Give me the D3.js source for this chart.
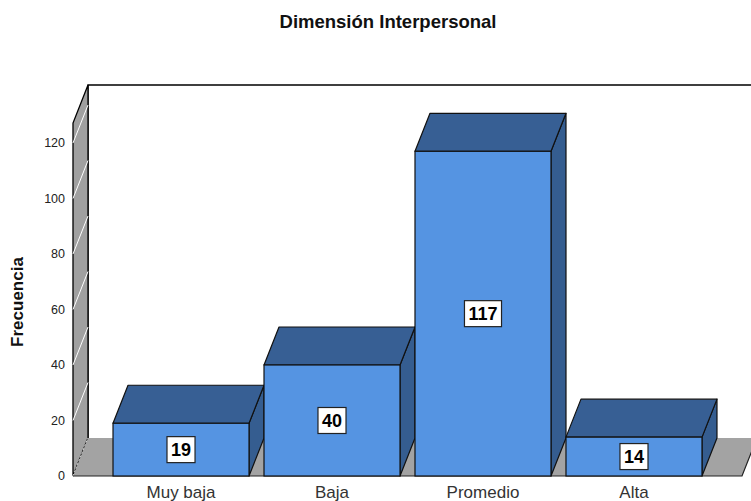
<!DOCTYPE html>
<html>
<head>
<meta charset="utf-8">
<script src="https://d3js.org/d3.v7.min.js"></script>
<style>
  body { margin: 0; background: #fff; }
  svg { display: block; font-family: Arial, "Liberation Sans", sans-serif; }
</style>
</head>
<body>
<div id="chart"></div>
<script>
const categories = ["Muy baja", "Baja", "Promedio", "Alta"];
const frecuencias = [19, 40, 117, 14];
const yTicks = [0, 20, 40, 60, 80, 100, 120];

const W = 751, H = 501;
const svg = d3.select("#chart").append("svg").attr("width", W).attr("height", H);

// 3D depth offset
const dx = 15, dy = -38;
const left = 73, right = 742, floorY = 476, topY = 123;

const y = d3.scaleLinear().domain([0, 127.2]).range([floorY, topY]);
const x = d3.scaleBand().domain(categories).range([left, right])
    .paddingInner(0.0993).paddingOuter(0.265);

const pts = a => a.map(p => p.join(",")).join(" ");

// back wall
svg.append("rect")
    .attr("x", left + dx).attr("y", topY + dy)
    .attr("width", W).attr("height", floorY - topY)
    .attr("fill", "#fff");
svg.append("path")
    .attr("d", `M${left + dx},${floorY + dy}V${topY + dy}H${W + 5}`)
    .attr("fill", "none").attr("stroke", "#000").attr("stroke-width", 1.3);

// left wall
svg.append("polygon")
    .attr("points", pts([[left, floorY], [left, topY], [left + dx, topY + dy], [left + dx, floorY + dy]]))
    .attr("fill", "#a0a0a0").attr("stroke", "#000").attr("stroke-width", 1.3);

// wall grid lines
svg.append("g").selectAll("line").data(yTicks).join("line")
    .attr("x1", left).attr("y1", d => y(d))
    .attr("x2", left + dx).attr("y2", d => y(d) + dy)
    .attr("stroke", "#fff").attr("stroke-width", 1)
    .attr("stroke-dasharray", d => d === 0 ? "2,2" : null);

// floor
svg.append("polygon")
    .attr("points", pts([[left, floorY], [left + dx, floorY + dy], [right + dx, floorY + dy], [right, floorY]]))
    .attr("fill", "#a3a3a3");
svg.append("path")
    .attr("d", `M${left},${floorY}H${right}L${right + dx},${floorY + dy}`)
    .attr("fill", "none").attr("stroke", "#222").attr("stroke-width", 1.2);

// y axis labels
svg.append("g").selectAll("text").data(yTicks).join("text")
    .attr("x", 65).attr("y", d => y(d))
    .attr("dy", "0.35em")
    .attr("text-anchor", "end")
    .attr("font-size", 12.5)
    .attr("fill", "#222")
    .text(d => d);

// bars
const data = categories.map((c, i) => ({cat: c, val: frecuencias[i]}));
const bw = x.bandwidth();
const bars = svg.append("g").selectAll("g").data(data).join("g");

bars.append("polygon")
    .attr("points", d => {
        const x0 = x(d.cat) + bw, y0 = y(d.val);
        return pts([[x0, y0], [x0 + dx, y0 + dy], [x0 + dx, floorY + dy], [x0, floorY]]);
    })
    .attr("fill", "#355d90").attr("stroke", "#111").attr("stroke-width", 1.2)
    .attr("stroke-linejoin", "round");

bars.append("polygon")
    .attr("points", d => {
        const x0 = x(d.cat), y0 = y(d.val);
        return pts([[x0, y0], [x0 + dx, y0 + dy], [x0 + bw + dx, y0 + dy], [x0 + bw, y0]]);
    })
    .attr("fill", "#375f94").attr("stroke", "#111").attr("stroke-width", 1.2)
    .attr("stroke-linejoin", "round");

bars.append("rect")
    .attr("x", d => x(d.cat)).attr("y", d => y(d.val))
    .attr("width", bw).attr("height", d => floorY - y(d.val))
    .attr("fill", "#5594e2").attr("stroke", "#111").attr("stroke-width", 1.2);

// value labels
bars.each(function (d) {
    const g = d3.select(this);
    const cx = x(d.cat) + bw / 2;
    const cy = (y(d.val) + floorY) / 2;
    const t = g.append("text")
        .attr("x", cx).attr("y", cy).attr("dy", "0.36em")
        .attr("text-anchor", "middle")
        .attr("font-size", 18).attr("font-weight", "bold")
        .attr("fill", "#000")
        .text(d.val);
    const tw = t.node().getComputedTextLength();
    g.insert("rect", "text")
        .attr("x", cx - tw / 2 - 4).attr("y", cy - 13)
        .attr("width", tw + 8).attr("height", 26)
        .attr("fill", "#fff").attr("stroke", "#222").attr("stroke-width", 1.2);
});

// category labels
svg.append("g").selectAll("text").data(categories).join("text")
    .attr("x", d => x(d) + bw / 2).attr("y", 498)
    .attr("text-anchor", "middle")
    .attr("font-size", 17)
    .attr("fill", "#333")
    .text(d => d);

// y title
svg.append("text")
    .attr("transform", "translate(23,302) rotate(-90)")
    .attr("text-anchor", "middle")
    .attr("font-size", 17).attr("font-weight", "bold")
    .attr("fill", "#111")
    .text("Frecuencia");

// title
svg.append("text")
    .attr("x", 388).attr("y", 28)
    .attr("text-anchor", "middle")
    .attr("font-size", 18.5).attr("font-weight", "bold")
    .attr("fill", "#111")
    .text("Dimensión Interpersonal");
</script>
</body>
</html>
